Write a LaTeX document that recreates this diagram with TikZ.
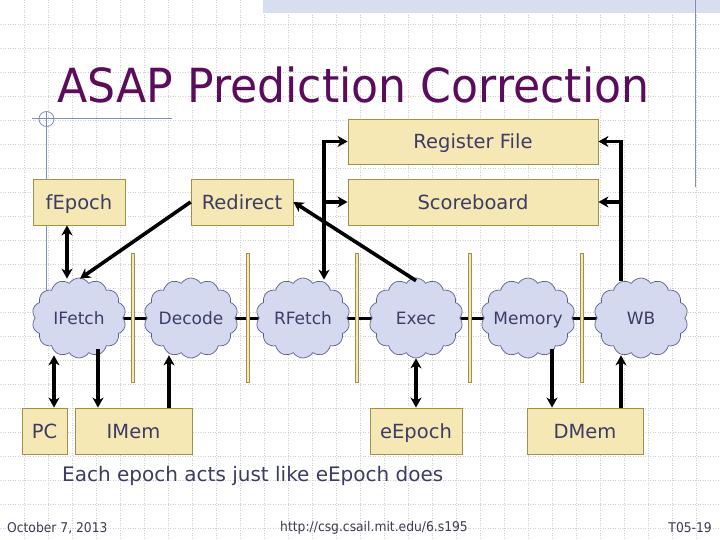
\documentclass[tikz,border=0pt]{standalone}
\usepackage{fontspec}
\setmainfont{DejaVu Sans}
\usetikzlibrary{shapes.symbols,arrows.meta,backgrounds}
\pgfdeclarelayer{canvas}
\pgfsetlayers{canvas,background,main}
\definecolor{boxfill}{RGB}{245,232,180}
\definecolor{boxline}{RGB}{160,144,74}
\definecolor{cloudfill}{RGB}{213,217,240}
\definecolor{cloudline}{RGB}{94,94,142}
\definecolor{textc}{RGB}{60,60,102}
\definecolor{titlec}{RGB}{92,12,92}
\definecolor{deco}{RGB}{126,142,190}
\definecolor{band}{RGB}{214,222,240}
\definecolor{gridc}{RGB}{208,208,208}
\definecolor{footc}{RGB}{60,60,80}
\tikzset{
  box/.style={draw=boxline,fill=boxfill,line width=0.8pt,inner sep=0pt,text=textc,
     text height=15pt,text depth=0pt,font=\fontsize{19.5}{22}\selectfont},
  stage/.style={cloud,cloud puffs=14,cloud puff arc=115,aspect=1.18,draw=cloudline,fill=cloudfill,line width=0.7pt,
     minimum width=94pt,minimum height=80pt,inner sep=0pt},
  stagelabel/.style={text=textc,font=\fontsize{17}{20}\selectfont,inner sep=0pt,text height=12.4pt,text depth=0pt},
  pipebar/.style={draw=boxline,fill=boxfill,line width=0.6pt,minimum width=3.5pt,minimum height=129pt,inner sep=0pt},
  arr/.style={line width=3.6pt,black,arrows={-Stealth[length=10pt,width=11pt,inset=3pt]}},
  darr/.style={line width=3.6pt,black,arrows={Stealth[length=10pt,width=11pt,inset=3pt]-Stealth[length=10pt,width=11pt,inset=3pt]}},
  foot/.style={inner sep=0pt,text=footc,font=\fontsize{13.4}{15}\selectfont,xscale=0.92},
}
\begin{document}
\begin{tikzpicture}[x=1pt,y=-1pt]
\useasboundingbox (0,0) rectangle (720,540);
\begin{pgfonlayer}{canvas}
\fill[white] (0,0) rectangle (720,540);
\foreach \gx in {24,48,...,696} \draw[gridc,dotted,line width=0.5pt] (\gx,0) -- (\gx,540);
\foreach \gy in {24,48,...,528} \draw[gridc,dotted,line width=0.5pt] (0,\gy) -- (720,\gy);
\fill[band] (263,0) rectangle (720,13);
\draw[deco,line width=1pt] (695,0) -- (695,187);
\draw[deco,line width=1pt] (32,119) -- (172,119);
\draw[deco,line width=1pt] (46.5,112) -- (46.5,290);
\draw[deco,line width=0.8pt] (46.5,119) circle[radius=7.5];
\end{pgfonlayer}
% title
\node[anchor=base west,inner sep=0pt,text=titlec,font=\fontsize{47}{50}\selectfont,xscale=0.94] (title) at (57,103) {ASAP Prediction Correction};
% boxes
\node[box,minimum width=250pt,minimum height=45pt] (rf) at (473,141.5) {Register File};
\node[box,minimum width=250pt,minimum height=46pt] (sb) at (473,202) {Scoreboard};
\node[box,minimum width=92pt,minimum height=46pt] (fepoch) at (79,202) {fEpoch};
\node[box,minimum width=102pt,minimum height=46pt] (redirect) at (242,202) {Redirect};
\node[box,minimum width=45pt,minimum height=46pt] (pc) at (44.5,431) {PC};
\node[box,minimum width=117pt,minimum height=46pt] (imem) at (133.5,431) {IMem};
\node[box,minimum width=92pt,minimum height=46pt] (eepoch) at (416,431) {eEpoch};
\node[box,minimum width=116pt,minimum height=46pt] (dmem) at (585,431) {DMem};
% stages
\node[stage,label={[stagelabel]center:IFetch}] (ifetch) at (79,318) {};
\node[stage,label={[stagelabel]center:Decode}] (decode) at (191,318) {};
\node[stage,label={[stagelabel]center:RFetch}] (rfetch) at (303,318) {};
\node[stage,label={[stagelabel]center:Exec}] (exec) at (416,318) {};
\node[stage,label={[stagelabel]center:Memory}] (memory) at (528,318) {};
\node[stage,label={[stagelabel]center:WB}] (wb) at (641,318) {};
\begin{pgfonlayer}{background}
\draw[line width=3pt,black] (ifetch.center) -- (wb.center);
\end{pgfonlayer}
% pipeline registers
\node[pipebar] (b1) at (133,317.5) {};
\node[pipebar] (b2) at (248,317.5) {};
\node[pipebar] (b3) at (357,317.5) {};
\node[pipebar] (b4) at (470,317.5) {};
\node[pipebar] (b5) at (582,317.5) {};
% connectors
\draw[darr] ([xshift=-12pt]fepoch.south) -- ([xshift=-12pt,yshift=-1pt]fepoch.south |- ifetch.north);
\draw[arr] (redirect.west) -- ([xshift=1pt,yshift=-1pt]ifetch.north);
\draw[arr] ([yshift=-3pt]exec.north) -- (redirect.east);
\coordinate (rbus) at ([xshift=21pt,yshift=-2pt]rfetch.north);
\draw[darr] (rf.west) -| (rbus);
\draw[arr] (rbus |- sb.west) -- (sb.west);
\coordinate (wbus) at ([xshift=-20pt,yshift=-3pt]wb.north);
\draw[arr] (wbus) |- (rf.east);
\draw[arr] (wbus |- sb.east) -- (sb.east);
\draw[darr] ([xshift=9.5pt]pc.north) -- ([xshift=9.5pt,yshift=3pt]pc.north |- ifetch.south);
\draw[arr] ([xshift=-35.5pt,yshift=9pt]imem.north |- ifetch.south) -- ([xshift=-35.5pt]imem.north);
\draw[arr] ([xshift=-22pt]decode.south |- imem.north) -- ([xshift=-22pt,yshift=3pt]decode.south);
\draw[darr] (exec.south) -- (eepoch.north);
\draw[arr] ([xshift=-33pt,yshift=9pt]dmem.north |- memory.south) -- ([xshift=-33pt]dmem.north);
\draw[arr] ([xshift=-20pt]wb.south |- dmem.north) -- ([xshift=-20pt,yshift=3pt]wb.south);
% texts
\node[anchor=west,inner sep=0pt,text=textc,font=\fontsize{20}{23}\selectfont] (note) at (62,476) {Each epoch acts just like eEpoch does};
\node[foot,anchor=west] (date) at (7,528) {October 7, 2013};
\node[foot] (url) at (374,528) {http://csg.csail.mit.edu/6.s195};
\node[foot,anchor=east] (slide) at (712,528) {T05-19};
\end{tikzpicture}
\end{document}
